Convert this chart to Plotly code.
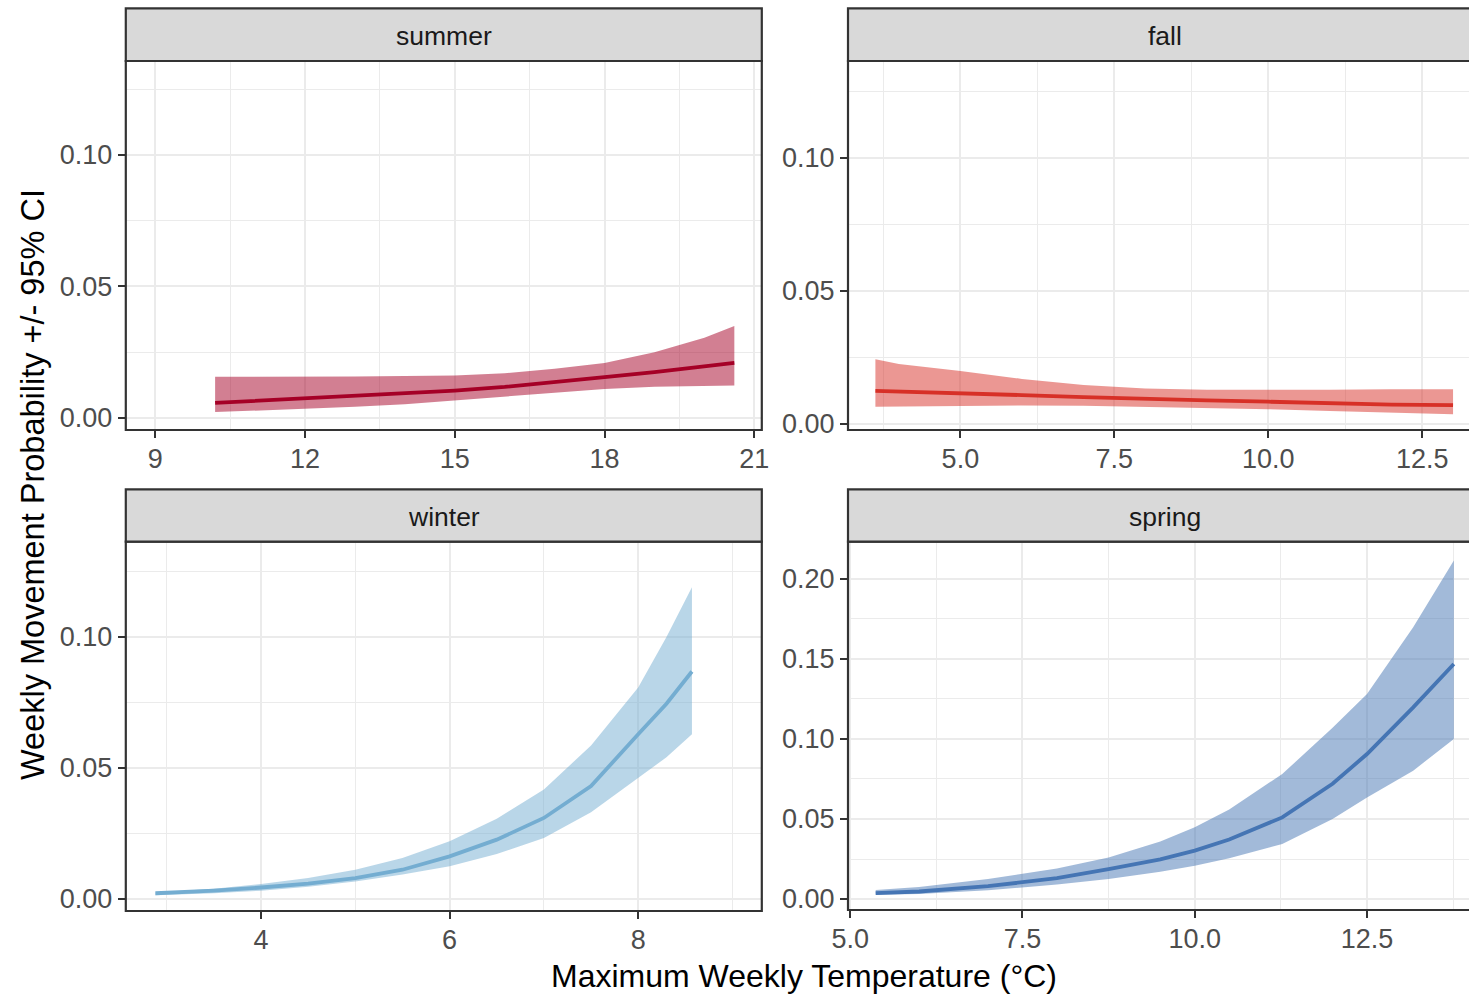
import plotly.graph_objects as go

# ---------------- data ----------------
seasons = ["summer", "fall", "winter", "spring"]
colors = {"summer": "#A50026", "fall": "#D73027", "winter": "#74ADD1", "spring": "#4575B4"}

summer_x = [10.2, 11, 12, 13, 14, 15, 16, 17, 18, 19, 20, 20.6]
summer_fit = [0.0057, 0.0065, 0.0075, 0.0083, 0.0093, 0.0104, 0.0118, 0.0135, 0.0155, 0.0174, 0.0196, 0.0209]
summer_hi = [0.0156, 0.0156, 0.0156, 0.0157, 0.0159, 0.0161, 0.0170, 0.0187, 0.0209, 0.0250, 0.0305, 0.0349]
summer_lo = [0.0022, 0.0027, 0.0034, 0.0042, 0.0052, 0.0066, 0.0081, 0.0096, 0.0110, 0.0118, 0.0122, 0.0123]

fall_x = [3.62, 4.0, 5.0, 6.0, 7.0, 8.0, 9.0, 10.0, 11.0, 12.0, 13.0]
fall_fit = [0.0123, 0.0121, 0.0114, 0.0107, 0.0099, 0.0092, 0.0087, 0.0082, 0.0076, 0.0071, 0.0069]
fall_hi = [0.0242, 0.0224, 0.0198, 0.0168, 0.0145, 0.0132, 0.0127, 0.0126, 0.0127, 0.0129, 0.0129]
fall_lo = [0.0063, 0.0065, 0.0067, 0.0068, 0.0067, 0.0064, 0.0059, 0.0054, 0.0047, 0.0040, 0.0035]

winter_x = [2.88, 3.5, 4.0, 4.5, 5.0, 5.5, 6.0, 6.5, 7.0, 7.5, 8.0, 8.3, 8.57]
winter_fit = [0.0020, 0.0030, 0.0042, 0.0057, 0.0078, 0.0110, 0.0161, 0.0225, 0.0308, 0.0430, 0.0628, 0.0745, 0.0868]
winter_hi = [0.0023, 0.0037, 0.0055, 0.0078, 0.0110, 0.0155, 0.0219, 0.0305, 0.0417, 0.0585, 0.0807, 0.1000, 0.1190]
winter_lo = [0.0012, 0.0020, 0.0030, 0.0045, 0.0065, 0.0092, 0.0123, 0.0170, 0.0231, 0.0330, 0.0462, 0.0540, 0.0628]

spring_x = [5.37, 6.0, 7.0, 7.5, 8.0, 8.75, 9.5, 10.0, 10.5, 11.27, 12.0, 12.5, 13.17, 13.76]
spring_fit = [0.0037, 0.0047, 0.0080, 0.0104, 0.0130, 0.0187, 0.0248, 0.0302, 0.0372, 0.0510, 0.0720, 0.0906, 0.1198, 0.1469]
spring_hi = [0.0056, 0.0075, 0.0125, 0.0156, 0.0190, 0.0260, 0.0360, 0.0448, 0.0560, 0.0781, 0.1070, 0.1281, 0.1698, 0.2115]
spring_lo = [0.0027, 0.0032, 0.0055, 0.0073, 0.0090, 0.0125, 0.0170, 0.0208, 0.0255, 0.0344, 0.0500, 0.0635, 0.0802, 0.1000]

x_title = "Maximum Weekly Temperature (°C)"
y_title = "Weekly Movement Probability +/- 95% CI"

data = {
    "summer": (summer_x, summer_fit, summer_hi, summer_lo),
    "fall": (fall_x, fall_fit, fall_hi, fall_lo),
    "winter": (winter_x, winter_fit, winter_hi, winter_lo),
    "spring": (spring_x, spring_fit, spring_hi, spring_lo),
}

# ---------------- layout geometry (pixels) ----------------
W, H = 1469, 998
FONT = "Arial, 'Liberation Sans', sans-serif"

panels = {
    "summer": dict(x0=125.8, x1=761.8, yt=61.0, yb=430.0, st=8.3, xr=[8.411, 21.15], yr=[-0.0046, 0.1357],
                   xt0=9, xdt=3, xfmt="d", ydt=0.05),
    "fall": dict(x0=848.0, x1=1481.0, yt=61.0, yb=430.0, st=8.3, xr=[3.175, 13.259], yr=[-0.00245, 0.13653],
                 xt0=5, xdt=2.5, xfmt=".1f", ydt=0.05),
    "winter": dict(x0=125.8, x1=761.8, yt=541.7, yb=911.0, st=489.3, xr=[2.566, 9.311], yr=[-0.00478, 0.13644],
                   xt0=4, xdt=2, xfmt="d", ydt=0.05),
    "spring": dict(x0=848.0, x1=1481.0, yt=541.7, yb=910.0, st=489.3, xr=[4.968, 13.98], yr=[-0.006875, 0.2233],
                   xt0=5, xdt=2.5, xfmt=".1f", ydt=0.05),
}


def px_x(v):
    return v / W


def px_y(v):
    return 1 - v / H


def rgba(hexc, a):
    h = hexc.lstrip("#")
    r, g, b = int(h[0:2], 16), int(h[2:4], 16), int(h[4:6], 16)
    return f"rgba({r},{g},{b},{a})"


fig = go.Figure()
layout = dict(
    width=W, height=H,
    margin=dict(l=0, r=0, t=0, b=0, autoexpand=False),
    paper_bgcolor="white", plot_bgcolor="white",
    showlegend=False,
    font=dict(family=FONT, color="#4D4D4D"),
)
shapes = []
annotations = []

for i, s in enumerate(seasons):
    p = panels[s]
    n = "" if i == 0 else str(i + 1)
    xa, ya = "x" + n, "y" + n
    xs, fit, hi, lo = data[s]
    c = colors[s]

    fig.add_trace(go.Scatter(
        x=list(xs) + list(xs)[::-1], y=list(hi) + list(lo)[::-1],
        fill="toself", fillcolor=rgba(c, 0.5), line=dict(width=0),
        mode="lines", xaxis=xa, yaxis=ya, hoverinfo="skip"))
    fig.add_trace(go.Scatter(
        x=xs, y=fit, mode="lines", line=dict(color=c, width=3.8),
        xaxis=xa, yaxis=ya))

    x1c = min(p["x1"], W)
    dom_x = [px_x(p["x0"]), px_x(x1c)]
    dom_y = [px_y(p["yb"]), px_y(p["yt"])]
    grid = dict(showgrid=True, gridcolor="#EBEBEB", gridwidth=2.2)
    minor_common = dict(showgrid=True, gridcolor="#EBEBEB", gridwidth=1.1, ticklen=0)
    layout["xaxis" + n] = dict(
        domain=dom_x, range=p["xr"], anchor=ya, tickmode="linear", automargin=False,
        tick0=p["xt0"], dtick=p["xdt"], tickformat=p["xfmt"],
        minor=dict(tick0=p["xt0"] - p["xdt"] / 2, dtick=p["xdt"], **minor_common),
        ticks="outside", ticklen=7, tickwidth=2, tickcolor="#333333",
        ticklabelstandoff=-2,
        tickfont=dict(size=27, color="#4D4D4D", family=FONT),
        zeroline=False, showline=False, fixedrange=True, **grid)
    layout["yaxis" + n] = dict(
        domain=dom_y, range=p["yr"], anchor=xa, tickmode="linear", automargin=False,
        tick0=0, dtick=p["ydt"], tickformat=".2f",
        minor=dict(tick0=p["ydt"] / 2, dtick=p["ydt"], **minor_common),
        ticks="outside", ticklen=7, tickwidth=2, tickcolor="#333333",
        tickfont=dict(size=27, color="#4D4D4D", family=FONT),
        zeroline=False, showline=False, fixedrange=True, **grid)

    shapes.append(dict(type="rect", xref="paper", yref="paper", layer="above",
                       x0=px_x(p["x0"]), x1=px_x(p["x1"]), y0=px_y(p["yb"]), y1=px_y(p["yt"]),
                       line=dict(color="#333333", width=2.2), fillcolor="rgba(0,0,0,0)"))
    shapes.append(dict(type="rect", xref="paper", yref="paper", layer="above",
                       x0=px_x(p["x0"]), x1=px_x(p["x1"]), y0=px_y(p["yt"]), y1=px_y(p["st"]),
                       line=dict(color="#333333", width=2.2), fillcolor="#D9D9D9"))
    annotations.append(dict(text=s, xref="paper", yref="paper", showarrow=False,
                            x=px_x((p["x0"] + p["x1"]) / 2), y=px_y((p["st"] + p["yt"]) / 2 + 1),
                            xanchor="center", yanchor="middle",
                            font=dict(size=26.5, color="#1A1A1A", family=FONT)))

annotations.append(dict(text=x_title, xref="paper", yref="paper", showarrow=False,
                        x=px_x(804.5), y=px_y(976), xanchor="center", yanchor="middle",
                        font=dict(size=32, color="black", family=FONT)))
annotations.append(dict(text=y_title, xref="paper", yref="paper", showarrow=False,
                        x=px_x(33), y=px_y(485), xanchor="center", yanchor="middle", textangle=-90,
                        font=dict(size=32.5, color="black", family=FONT)))

layout["shapes"] = shapes
layout["annotations"] = annotations
fig.update_layout(**layout)
fig.write_html("out.html")
